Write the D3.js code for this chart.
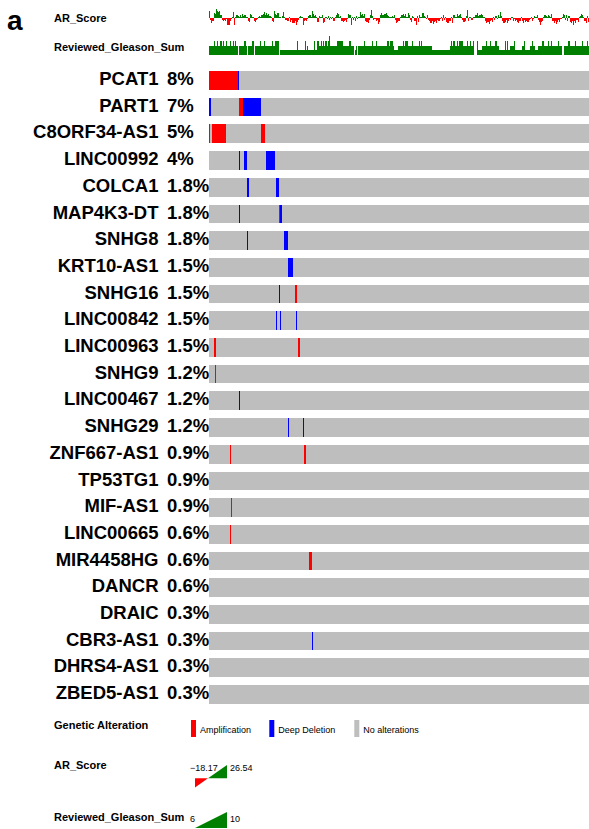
<!DOCTYPE html>
<html>
<head>
<meta charset="utf-8">
<script src="https://cdn.jsdelivr.net/npm/d3@7"></script>
<style>
  body { margin: 0; background: #fff; }
  svg { display: block; }
</style>
</head>
<body>
<svg id="chart" width="589" height="829"></svg>
<script>
// ---- data -------------------------------------------------------------
const nSamples = 333;

const genes = ["PCAT1", "PART1", "C8ORF34-AS1", "LINC00992", "COLCA1", "MAP4K3-DT",
  "SNHG8", "KRT10-AS1", "SNHG16", "LINC00842", "LINC00963", "SNHG9", "LINC00467",
  "SNHG29", "ZNF667-AS1", "TP53TG1", "MIF-AS1", "LINC00665", "MIR4458HG", "DANCR",
  "DRAIC", "CBR3-AS1", "DHRS4-AS1", "ZBED5-AS1"];

const freqLabels = ["8%", "7%", "5%", "4%", "1.8%", "1.8%", "1.8%", "1.5%", "1.5%",
  "1.5%", "1.5%", "1.2%", "1.2%", "1.2%", "0.9%", "0.9%", "0.9%", "0.6%", "0.6%",
  "0.6%", "0.3%", "0.3%", "0.3%", "0.3%"];

// [gene, first sample, last sample, alteration type]
const alterations = [
  ["PCAT1", 0, 24, "AMP"], ["PCAT1", 25, 25, "HOMDEL"],
  ["PART1", 0, 1, "HOMDEL"], ["PART1", 26, 29, "AMP"], ["PART1", 30, 45, "HOMDEL"],
  ["C8ORF34-AS1", 0, 0, "AMP"], ["C8ORF34-AS1", 3, 14, "AMP"], ["C8ORF34-AS1", 46, 48, "AMP"],
  ["LINC00992", 26, 26, "HOMDEL"], ["LINC00992", 31, 32, "HOMDEL"], ["LINC00992", 50, 57, "HOMDEL"],
  ["COLCA1", 33, 34, "HOMDEL"], ["COLCA1", 59, 60, "HOMDEL"],
  ["MAP4K3-DT", 26, 26, "HOMDEL"], ["MAP4K3-DT", 61, 61, "AMP"], ["MAP4K3-DT", 62, 63, "HOMDEL"],
  ["SNHG8", 33, 33, "HOMDEL"], ["SNHG8", 66, 68, "HOMDEL"],
  ["KRT10-AS1", 69, 73, "HOMDEL"],
  ["SNHG16", 61, 61, "HOMDEL"], ["SNHG16", 75, 76, "AMP"],
  ["LINC00842", 59, 59, "HOMDEL"], ["LINC00842", 62, 62, "HOMDEL"], ["LINC00842", 76, 76, "HOMDEL"],
  ["LINC00963", 4, 5, "AMP"], ["LINC00963", 78, 79, "AMP"],
  ["SNHG9", 5, 5, "AMP"],
  ["LINC00467", 26, 26, "HOMDEL"],
  ["SNHG29", 69, 69, "HOMDEL"], ["SNHG29", 82, 82, "HOMDEL"],
  ["ZNF667-AS1", 18, 18, "AMP"], ["ZNF667-AS1", 83, 84, "AMP"],
  ["MIF-AS1", 19, 19, "AMP"],
  ["LINC00665", 18, 18, "AMP"],
  ["MIR4458HG", 88, 89, "AMP"],
  ["CBR3-AS1", 90, 90, "HOMDEL"]
];

// AR score per sample (same sample order as the alteration rows)
const arScore = [
  20, -5, -14, -6, 14, 11, 25, 19, 17, 20, 10, -5, -6, -5, -8, -3, -17, -18, -6, -3,
  5, 18, -17, 5, 10, 6, 3, 8, 5, 13, 6, 10, 3, 5, -8, -11, 13, 10, 5, -6,
  -10, -5, -3, 5, 6, 3, 8, 11, 18, 10, 14, 8, 13, 6, 5, -6, -10, 19, 13, 8,
  16, 5, 3, 2, 6, 18, 5, -5, -8, -6, 3, -10, -5, -14, -13, -8, -18, -11, -5, 3,
  6, 5, -17, -6, -5, -8, -3, 6, 10, 5, 20, 13, 6, 8, 5, -10, 6, 5, 3, 8,
  -14, -11, 5, -3, 6, -5, 3, -3, 5, -6, 3, 8, 16, 11, 5, 6, -8, -11, -6, -5,
  -10, -3, 11, 8, -17, 5, -5, 3, -6, 6, -3, 5, 18, 8, 11, 6, 13, -6, -10, -13,
  -5, 8, 22, 6, -5, -3, -6, -5, -16, -10, 8, 14, 10, 13, 11, 14, 10, 6, 5, 3,
  6, 5, 10, -5, -14, -10, -6, 5, 10, 8, 13, 6, 11, 5, 14, 8, -5, -10, 6, 5,
  -8, -17, 6, -10, 8, 5, 3, 16, 6, 5, -3, 8, -5, -8, -13, -6, -16, -10, -6, -14,
  -5, -8, -3, 5, -6, 8, -5, 3, -10, -14, -8, -6, 5, -13, 8, 10, 5, 11, 6, 8,
  13, 5, -5, -10, -8, 6, 24, -6, 5, 3, -5, 3, 5, 8, 10, 14, 6, 10, 11, 8,
  5, 3, -6, -13, -10, -16, -8, -5, -11, 3, -5, 6, -3, 10, 5, 17, 6, -8, -13, -10,
  -5, -14, -6, -3, -5, 3, -6, -3, -8, -5, -10, -13, -6, 5, -8, -14, -5, -10, -6, -11,
  -5, -3, 5, -6, -3, 6, 5, 8, -5, -10, -17, -11, -6, 5, 8, 6, 3, 10, 6, 5,
  11, -6, -13, -8, -16, -10, -5, -11, -3, 3, 13, 8, -5, 10, -6, 6, -10, -14, -8, -17,
  -6, -13, -5, -10, 3, 6, 11, 8, 5, -8, -13, 6, -10
];

// Reviewed Gleason sum per sample
const gleasonSum = [
  8, 8, 8, 8, 9, 8, 8, 9, 8, 8, 9, 8, 9, 8, 8, 9, 8, 8, 9, 8, 8, 9, 8, 9, 8, 6,
  8, 8, 8, 8, 8, 9, 8, 6, 8, 8, 8, 8, 9, 6,
  8, 8, 8, 8, 8, 9, 8, 8, 9, 8, 8, 8, 8, 8, 8, 9, 8, 8, 9, 9, 9, 6,
  7, 7, 7, 7, 7, 7, 7, 7, 7, 7, 7, 7, 7, 7, 7, 9,
  7, 7, 7, 7, 7, 7, 9, 7, 8, 7, 7, 7, 7, 7, 9, 7, 7,
  9, 8, 8, 9, 8, 9, 8, 9, 8, 9, 10, 8, 8, 8, 8, 8, 8, 9, 9, 9, 9, 9,
  8, 8, 8, 8, 8, 8, 9, 8, 8, 8, 6, 7, 8, 6, 8, 8, 8,
  8, 8, 9, 8, 8, 8, 8, 8, 8, 9, 8, 8, 9, 8, 8, 8, 8, 8, 8, 8, 8, 8,
  9, 9, 8, 9, 9, 8, 7, 7, 7, 7,
  8, 8, 8, 8, 9, 8, 9, 9, 8, 8, 8, 8, 9, 8, 8, 8, 8, 8, 9, 8, 9, 8,
  8, 8, 8, 8, 8, 8, 8,
  7, 7, 7, 7, 7, 7, 7, 7, 7, 7, 7, 7, 7, 7, 7, 7,
  8, 9, 8, 9, 9, 8, 9, 8, 9, 9, 9, 9, 8, 8, 8, 9, 8, 8, 9, 8, 9,
  6, 6, 6, 9, 7, 7, 7,
  8, 8, 8, 8, 9, 8, 8, 9, 8, 8, 8, 8, 9, 8, 8,
  7, 7, 7, 7, 7, 9, 7, 9, 7, 7, 8, 8, 8, 9, 7, 7, 7, 7, 7, 7,
  8, 8, 9, 7, 7, 7, 7, 8, 8, 9, 8, 8, 7, 7,
  8, 8, 8, 8, 9, 9, 8, 8, 8, 9, 8, 8, 9, 8, 8, 8, 8, 8, 9, 8, 8, 6, 6,
  8, 8, 8, 8, 9, 8, 8, 8, 8, 8, 9, 8, 8, 8, 8, 8, 9, 8, 8, 8, 9, 8
];

const legendItems = ["Amplification", "Deep Deletion", "No alterations"];
const arDomain = [-18.17, 26.54];
const gleasonDomain = [6, 10];

// ---- drawing ----------------------------------------------------------
const colors = { AMP: "#ff0000", HOMDEL: "#0000ff", NONE: "#bebebe", green: "#008000" };
const svg = d3.select("#chart");
const labelFont = "'Liberation Sans', Arial, Helvetica, sans-serif";

const x = d3.scaleBand().domain(d3.range(nSamples)).range([209, 589]).paddingInner(0).paddingOuter(0);
const y = d3.scaleBand().domain(genes).range([71, 703.8]).paddingInner(8 / 26.7).paddingOuter(0);

// panel letter
svg.append("text").attr("x", 7).attr("y", 30)
  .attr("font-family", labelFont).attr("font-weight", "bold").attr("font-size", 28)
  .text("a");

// clinical track labels
const trackLabels = [["AR_Score", 22], ["Reviewed_Gleason_Sum", 51]];
svg.selectAll("text.track").data(trackLabels).join("text")
  .attr("class", "track").attr("x", 54).attr("y", d => d[1])
  .attr("font-family", labelFont).attr("font-weight", "bold").attr("font-size", 11)
  .text(d => d[0]);

// AR score bar track
const arY = d3.scaleLinear().domain(arDomain).range([25, 8.7]);
svg.append("g").attr("shape-rendering", "crispEdges")
  .selectAll("rect").data(arScore).join("rect")
  .attr("x", (d, i) => x(i)).attr("width", x.bandwidth())
  .attr("y", d => Math.min(arY(0), arY(d)))
  .attr("height", d => Math.abs(arY(d) - arY(0)))
  .attr("fill", d => d >= 0 ? colors.green : colors.AMP);

// Gleason sum bar track
const glY = d3.scaleLinear().domain(gleasonDomain).range([55, 36]);
svg.append("g").attr("shape-rendering", "crispEdges")
  .selectAll("rect").data(gleasonSum).join("rect")
  .attr("x", (d, i) => x(i)).attr("width", x.bandwidth())
  .attr("y", d => glY(d)).attr("height", d => glY(gleasonDomain[0]) - glY(d))
  .attr("fill", colors.green);

// gene rows: unaltered background
const rows = svg.append("g").attr("shape-rendering", "crispEdges");
rows.selectAll("rect.bg").data(genes).join("rect")
  .attr("class", "bg")
  .attr("x", x(0)).attr("width", x.range()[1] - x(0))
  .attr("y", g => y(g)).attr("height", y.bandwidth())
  .attr("fill", colors.NONE);

// alteration cells
const cells = alterations.flatMap(([gene, a, b, type]) =>
  d3.range(a, b + 1).map(s => ({ gene, s, type })));
rows.selectAll("rect.alt").data(cells).join("rect")
  .attr("class", "alt")
  .attr("x", d => x(d.s)).attr("width", x.bandwidth())
  .attr("y", d => y(d.gene)).attr("height", y.bandwidth())
  .attr("fill", d => colors[d.type]);

// gene names and alteration frequencies
svg.selectAll("text.gene").data(genes).join("text")
  .attr("class", "gene").attr("x", 158.5).attr("y", g => y(g) + 14)
  .attr("text-anchor", "end")
  .attr("font-family", labelFont).attr("font-weight", "bold").attr("font-size", 18.5)
  .text(g => g);
svg.selectAll("text.freq").data(genes).join("text")
  .attr("class", "freq").attr("x", 167).attr("y", g => y(g) + 14)
  .attr("font-family", labelFont).attr("font-weight", "bold").attr("font-size", 18.5)
  .text((g, i) => freqLabels[i]);

// ---- legend -----------------------------------------------------------
const legendTitles = [["Genetic Alteration", 729], ["AR_Score", 769], ["Reviewed_Gleason_Sum", 821]];
svg.selectAll("text.legtitle").data(legendTitles).join("text")
  .attr("class", "legtitle").attr("x", 54).attr("y", d => d[1])
  .attr("font-family", labelFont).attr("font-weight", "bold").attr("font-size", 11)
  .text(d => d[0]);

const legendColors = [colors.AMP, colors.HOMDEL, colors.NONE];
const legendX = [191, 269.3, 354.3];
const leg = svg.append("g");
leg.selectAll("rect").data(legendItems).join("rect")
  .attr("x", (d, i) => legendX[i]).attr("y", 720).attr("width", 5).attr("height", 17)
  .attr("fill", (d, i) => legendColors[i]);
leg.selectAll("text").data(legendItems).join("text")
  .attr("x", (d, i) => legendX[i] + 9).attr("y", 732.5)
  .attr("font-family", labelFont).attr("font-size", 9)
  .text(d => d);

// AR score scale glyph
const arLx = d3.scaleLinear().domain(arDomain).range([195, 227]);
const arLy = d3.scaleLinear().domain(arDomain).range([787.5, 765]);
svg.append("path")
  .attr("d", d3.line()([[arLx(arDomain[0]), arLy(0)], [arLx(0), arLy(0)], [arLx(arDomain[0]), arLy(arDomain[0])]]) + "Z")
  .attr("fill", colors.AMP);
svg.append("path")
  .attr("d", d3.line()([[arLx(0), arLy(0)], [arLx(arDomain[1]), arLy(0)], [arLx(arDomain[1]), arLy(arDomain[1])]]) + "Z")
  .attr("fill", colors.green);

// Gleason scale glyph
const glLx = d3.scaleLinear().domain(gleasonDomain).range([195, 227]);
const glLy = d3.scaleLinear().domain(gleasonDomain).range([828, 812]);
svg.append("path")
  .attr("d", d3.line()([[glLx(6), glLy(6)], [glLx(10), glLy(6)], [glLx(10), glLy(10)]]) + "Z")
  .attr("fill", colors.green);

const scaleLabels = [
  [190, 771, d3.format(".2f")(arDomain[0])], [230, 771, d3.format(".2f")(arDomain[1])],
  [190, 822, String(gleasonDomain[0])], [230, 822, String(gleasonDomain[1])]
];
svg.selectAll("text.scale").data(scaleLabels).join("text")
  .attr("class", "scale").attr("x", d => d[0]).attr("y", d => d[1])
  .attr("font-family", labelFont).attr("font-size", 9)
  .text(d => d[2]);
</script>
</body>
</html>
